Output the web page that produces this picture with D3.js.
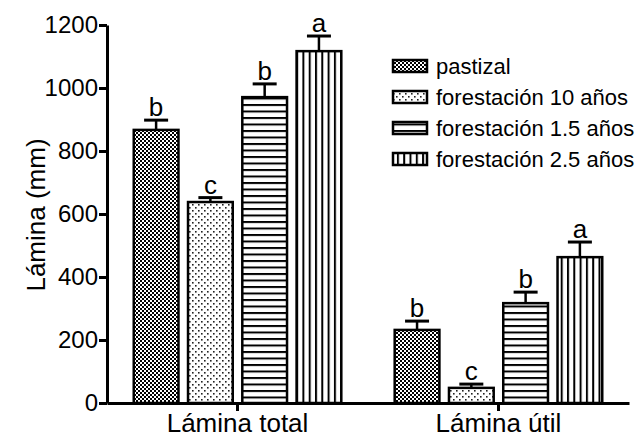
<!DOCTYPE html>
<html><head><meta charset="utf-8">
<script src="https://cdn.jsdelivr.net/npm/d3@7"></script>
<style>body{margin:0;background:#fff}svg{display:block}text{font-family:"Liberation Sans",Arial,sans-serif;fill:#000}</style>
</head><body><svg id="c" width="642" height="439"></svg>
<script>
const categories = ["Lámina total", "Lámina útil"];
const series = ["pastizal", "forestación 10 años", "forestación 1.5 años", "forestación 2.5 años"];
const pastizal = [867, 232];
const forest10 = [638, 48];
const forest15 = [971, 317];
const forest25 = [1117, 463];
const errPastizal = [31, 28];
const errForest10 = [14, 12];
const errForest15 = [42, 35];
const errForest25 = [48, 48];
const lettersPastizal = ["b", "b"];
const lettersForest10 = ["c", "c"];
const lettersForest15 = ["b", "b"];
const lettersForest25 = ["a", "a"];
const yTicks = [0, 200, 400, 600, 800, 1000, 1200];

const values = [pastizal, forest10, forest15, forest25];
const errs = [errPastizal, errForest10, errForest15, errForest25];
const letters = [lettersPastizal, lettersForest10, lettersForest15, lettersForest25];

const svg = d3.select("#c");
const defs = svg.append("defs");
// patterns
let p = defs.append("pattern").attr("id","p0").attr("patternUnits","userSpaceOnUse").attr("width",4).attr("height",4);
p.append("rect").attr("width",4).attr("height",4).attr("fill","#fff");
p.append("rect").attr("x",0).attr("y",0).attr("width",2).attr("height",2).attr("fill","#000");
p.append("rect").attr("x",2).attr("y",2).attr("width",2).attr("height",2).attr("fill","#000");
p = defs.append("pattern").attr("id","p1").attr("patternUnits","userSpaceOnUse").attr("width",6).attr("height",6);
p.append("rect").attr("width",6).attr("height",6).attr("fill","#fff");
p.append("rect").attr("x",0).attr("y",0).attr("width",1.6).attr("height",1.6).attr("fill","#222");
p.append("rect").attr("x",3).attr("y",3).attr("width",1.6).attr("height",1.6).attr("fill","#222");
p = defs.append("pattern").attr("id","p2").attr("patternUnits","userSpaceOnUse").attr("width",6.5).attr("height",6.5);
p.append("rect").attr("width",6.5).attr("height",6.5).attr("fill","#fff");
p.append("rect").attr("x",0).attr("y",0).attr("width",6.5).attr("height",2).attr("fill","#000");
p = defs.append("pattern").attr("id","p3").attr("patternUnits","userSpaceOnUse").attr("width",6.3).attr("height",6.3);
p.append("rect").attr("width",6.3).attr("height",6.3).attr("fill","#fff");
p.append("rect").attr("x",0).attr("y",0).attr("width",2).attr("height",6.3).attr("fill","#000");

const y = d3.scaleLinear().domain([0,1200]).range([403,25]);
const x0 = d3.scaleBand().domain(categories).range([107,629]).paddingInner(0.195).paddingOuter(0.0977);
const x1 = d3.scaleBand().domain(series).range([0,x0.bandwidth()]).paddingInner(0.13).paddingOuter(0);

const g = svg.append("g");
categories.forEach((cat, ci) => {
  series.forEach((s, si) => {
    const bx = x0(cat) + x1(s);
    const v = values[si][ci], e = errs[si][ci];
    const cx = bx + x1.bandwidth()/2;
    g.append("line").attr("x1",cx).attr("x2",cx).attr("y1",y(v)).attr("y2",y(v+e)).attr("stroke","#000").attr("stroke-width",2.5);
    g.append("line").attr("x1",cx-12).attr("x2",cx+12).attr("y1",y(v+e)).attr("y2",y(v+e)).attr("stroke","#000").attr("stroke-width",3);
    g.append("rect").attr("x",bx+1.25).attr("y",y(v)).attr("width",x1.bandwidth()-2.5).attr("height",y(0)-y(v))
      .attr("fill","url(#p"+si+")").attr("stroke","#000").attr("stroke-width",2.5);
    g.append("text").attr("x",cx).attr("y",y(v+e)-4).attr("text-anchor","middle").style("font-size","26px").text(letters[si][ci]);
  });
});

// axes
const ya = svg.append("g").attr("transform","translate(107,0)").call(d3.axisLeft(y).tickValues(yTicks).tickSize(8).tickSizeOuter(0).tickPadding(1).tickFormat(d3.format("d")));
ya.select(".domain").attr("stroke-width",3);
ya.selectAll(".tick line").attr("stroke-width",3);
ya.selectAll(".tick text").style("font-size","24px").attr("font-family",null);
const xa = svg.append("g").attr("transform","translate(0,403)").call(d3.axisBottom(x0).tickSize(8).tickSizeOuter(0).tickPadding(3));
xa.select(".domain").attr("stroke-width",3);
xa.selectAll(".tick line").attr("stroke-width",3);
xa.selectAll(".tick text").style("font-size","26px").attr("font-family",null);

svg.append("text").attr("transform","translate(45,215) rotate(-90)").attr("text-anchor","middle").style("font-size","26px").text("Lámina (mm)");

// legend
const lg = svg.append("g");
series.forEach((s, i) => {
  const ly = 66 + i*31;
  lg.append("rect").attr("x",393).attr("y",ly-6).attr("width",34).attr("height",12).attr("fill","url(#p"+i+")").attr("stroke","#000").attr("stroke-width",2.5);
  lg.append("text").attr("x",436).attr("y",ly+7.5).style("font-size","22px").text(s);
});
</script></body></html>
